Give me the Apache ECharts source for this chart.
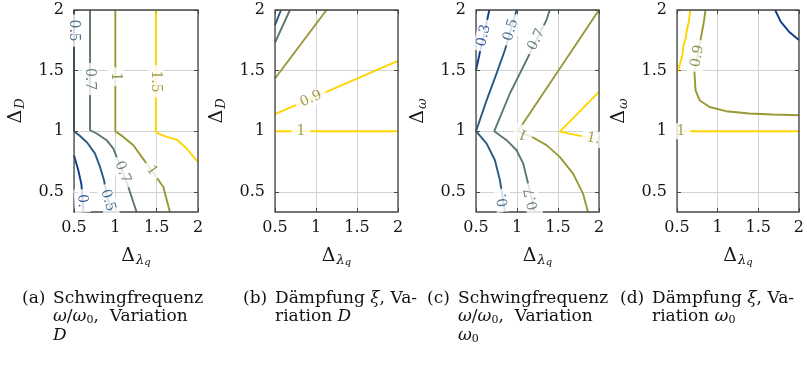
<!DOCTYPE html>
<html>
<head>
<meta charset="utf-8">
<script src="https://cdn.jsdelivr.net/npm/echarts@6/dist/echarts.min.js"></script>
<style>
  html, body { margin: 0; padding: 0; background: #fff; }
  #chart { width: 807px; height: 366px; }
</style>
</head>
<body>
<div id="chart"></div>
<script>
// Axis ranges and tick values (same for all four panels)
const xRange = [0.5, 2];
const yRange = [1 / 3, 2];
const xTicks = [0.5, 1, 1.5, 2];
const yTicks = [0.5, 1, 1.5, 2];

// Contour lines: [Δλq, Δ] points, each traced in the direction its labels read
const contoursA = [
  { level: 0.3, points: [[0.5, 0.802], [0.552, 0.678], [0.59, 0.56], [0.615, 0.331]] },
  { level: 0.5, points: [[0.5, 2], [0.5, 1.0], [0.573, 0.96], [0.661, 0.905], [0.754, 0.815], [0.815, 0.705], [0.863, 0.595], [0.9, 0.46], [0.956, 0.331]] },
  { level: 0.7, points: [[0.694, 2], [0.694, 1.008], [0.774, 0.981], [0.895, 0.926], [0.976, 0.857], [1.016, 0.788], [1.157, 0.54], [1.258, 0.331]] },
  { level: 1, points: [[1.0, 2], [1.0, 1.0], [1.097, 0.953], [1.218, 0.884], [1.319, 0.788], [1.581, 0.54], [1.661, 0.331]] },
  { level: 1.5, points: [[1.49, 2], [1.49, 1.0], [1.52, 0.98], [1.62, 0.953], [1.742, 0.931], [1.863, 0.857], [2, 0.745]] }
];
const contoursB = [
  { level: 0.6, points: [[0.5, 1.876], [0.573, 2]] },
  { level: 0.7, points: [[0.5, 1.73], [0.682, 2]] },
  { level: 0.8, points: [[0.5, 1.435], [1.128, 2]] },
  { level: 0.9, points: [[0.5, 1.14], [2, 1.58]] },
  { level: 1, points: [[0.5, 1.0], [2, 1.0]] }
];
const contoursC = [
  { level: 0.3, points: [[0.5, 1.5], [0.549, 1.656], [0.6, 1.8], [0.662, 2]] },
  { level: 0.5, points: [[0.853, 0.331], [0.812, 0.512], [0.792, 0.595], [0.731, 0.76], [0.63, 0.898], [0.5, 1.0], [0.63, 1.256], [0.751, 1.477], [0.853, 1.67], [0.93, 1.85], [0.995, 2]] },
  { level: 0.7, points: [[1.217, 0.331], [1.136, 0.567], [1.076, 0.733], [0.995, 0.843], [0.873, 0.926], [0.723, 1.0], [0.913, 1.311], [1.116, 1.587], [1.25, 1.77], [1.359, 1.917], [1.4, 2]] },
  { level: 1, points: [[1.866, 0.331], [1.805, 0.485], [1.684, 0.65], [1.521, 0.788], [1.36, 0.885], [1.19, 0.95], [1.01, 1.0], [2, 2]] },
  { level: 1.5, points: [[2, 1.325], [1.522, 0.997], [1.757, 0.964], [2, 0.93]] }
];
const contoursD = [
  { level: 0.8, points: [[1.707, 2], [1.776, 1.904], [1.878, 1.821], [2, 1.752]] },
  { level: 0.9, points: [[2, 1.132], [1.674, 1.138], [1.389, 1.146], [1.103, 1.165], [0.9, 1.2], [0.777, 1.256], [0.728, 1.339], [0.715, 1.478], [0.756, 1.63], [0.797, 1.78], [0.83, 1.9], [0.851, 2]] },
  { level: 1, points: [[0.5, 1.478], [0.533, 1.547], [0.566, 1.629], [0.582, 1.711], [0.606, 1.767], [0.622, 1.835], [0.646, 1.904], [0.663, 2]] },
  { level: 1, points: [[0.5, 1.0], [2, 1.0]] }
];

// Contour labels: which line they sit on, the text shown and the point on that line
const labelsA = [
  { line: 1, text: '0.5', at: [0.5, 1.83] },
  { line: 2, text: '0.7', at: [0.694, 1.43] },
  { line: 3, text: '1', at: [1.0, 1.45] },
  { line: 4, text: '1.5', at: [1.49, 1.41] },
  { line: 2, text: '0.7', at: [1.089, 0.662] },
  { line: 3, text: '1', at: [1.44, 0.675] },
  { line: 1, text: '0.5', at: [0.91, 0.43] },
  { line: 0, text: '0.', at: [0.6, 0.425] }
];
const labelsB = [
  { line: 3, text: '0.9', at: [0.938, 1.268] },
  { line: 4, text: '1', at: [0.816, 1.0] }
];
const labelsC = [
  { line: 0, text: '0.3', at: [0.595, 1.79] },
  { line: 1, text: '0.5', at: [0.924, 1.835] },
  { line: 2, text: '0.7', at: [1.238, 1.755] },
  { line: 1, text: '0.', at: [0.83, 0.43] },
  { line: 2, text: '0.7', at: [1.18, 0.44] },
  { line: 3, text: '1', at: [1.076, 0.98] },
  { line: 4, text: '1.', at: [1.93, 0.94] }
];
const labelsD = [
  { line: 1, text: '0.9', at: [0.752, 1.62] },
  { line: 3, text: '1', at: [0.55, 1.0] }
];

// ---- styling ----
const FONT = 'DejaVu Serif';
const palette = {
  darkBlue: '#0e3d8c', teal: '#2a5a80', sage: '#5b7868', olive: '#999934', gold: '#ffd400'
};
const labelInk = {
  darkBlue: '#0c367c', teal: '#224d70', sage: '#4a665a', olive: '#76762a', gold: '#8c8428'
};
const colorKeysAC = { 0.3: 'darkBlue', 0.5: 'teal', 0.7: 'sage', 1: 'olive', 1.5: 'gold' };
const panels = [
  { contours: contoursA, labels: labelsA, keys: colorKeysAC, left: 74, width: 124, yName: '{d|Δ}{s|D}' },
  { contours: contoursB, labels: labelsB, keys: { 0.6: 'teal', 0.7: 'sage', 0.8: 'olive', 0.9: 'gold', 1: 'gold' }, left: 275, width: 123, yName: '{d|Δ}{s|D}' },
  { contours: contoursC, labels: labelsC, keys: colorKeysAC, left: 476, width: 123, yName: '{d|Δ}{s|ω}' },
  { contours: contoursD, labels: labelsD, keys: { 0.8: 'darkBlue', 0.9: 'olive', 1: 'gold' }, left: 677, width: 123, yName: '{d|Δ}{s|ω}' }
];

const INK = '#161616';
const nameRich = {
  d: { fontFamily: FONT, fontSize: 19, color: INK },
  s: { fontFamily: FONT, fontSize: 13, fontStyle: 'italic', color: INK, verticalAlign: 'bottom', padding: [8, 0, 0, 1] },
  ss: { fontFamily: FONT, fontSize: 10, fontStyle: 'italic', color: INK, verticalAlign: 'bottom', padding: [12, 0, 0, 0] }
};

const FRAME = '#474747';
const grid = [], xAxis = [], yAxis = [];
panels.forEach((p, i) => {
  grid.push({ left: p.left, top: 10, width: p.width, height: 202, show: true, z: 10,
    borderColor: FRAME, borderWidth: 1.3, backgroundColor: 'transparent' });
  xAxis.push({
    type: 'value', gridIndex: i, min: xRange[0], max: xRange[1], interval: 0.5,
    name: '{d|Δ}{s|λ}{ss|q}', nameLocation: 'middle', nameGap: 33,
    nameTextStyle: { rich: nameRich },
    axisLine: { show: false },
    axisTick: { show: true, inside: true, length: 4, lineStyle: { color: FRAME } },
    axisLabel: { fontFamily: FONT, fontSize: 16, color: INK, margin: 8,
      customValues: xTicks },
    splitLine: { show: true, lineStyle: { color: '#d2d2d2', width: 1 } }
  });
  yAxis.push({
    type: 'value', gridIndex: i, min: yRange[0], max: yRange[1],
    name: p.yName, nameLocation: 'middle', nameGap: 47, nameRotate: 90,
    nameTextStyle: { rich: nameRich },
    axisLine: { show: false },
    axisTick: { show: true, inside: true, length: 4, lineStyle: { color: FRAME }, customValues: yTicks },
    axisLabel: { fontFamily: FONT, fontSize: 16, color: INK, margin: 10, customValues: yTicks },
    splitLine: { show: true, lineStyle: { color: '#d2d2d2', width: 1 } }
  });
});
// mirrored ticks on the top and right edges
panels.forEach((p, i) => {
  xAxis.push({ type: 'value', gridIndex: i, position: 'top', min: xRange[0], max: xRange[1], interval: 0.5,
    axisLine: { show: false }, axisLabel: { show: false }, splitLine: { show: false },
    axisTick: { show: true, inside: true, length: 4, lineStyle: { color: FRAME } } });
  yAxis.push({ type: 'value', gridIndex: i, position: 'right', min: yRange[0], max: yRange[1],
    axisLine: { show: false }, axisLabel: { show: false }, splitLine: { show: false },
    axisTick: { show: true, inside: true, length: 4, lineStyle: { color: FRAME }, customValues: yTicks } });
});

function buildSeries(angles) {
  const series = [];
  panels.forEach((p, i) => {
    p.contours.forEach(c => {
      series.push({
        type: 'line', xAxisIndex: i, yAxisIndex: i, data: c.points,
        showSymbol: false, silent: true, clip: true, z: 3, animation: false,
        lineStyle: { color: palette[p.keys[c.level]], width: 1.9 }
      });
    });
    series.push({
      type: 'scatter', xAxisIndex: i, yAxisIndex: i, silent: true, z: 12, zlevel: 0,
      symbolSize: 1, itemStyle: { color: 'rgba(0,0,0,0)' }, animation: false, clip: false,
      data: p.labels.map((l, k) => ({
        value: l.at,
        label: {
          formatter: l.text,
          color: labelInk[p.keys[p.contours[l.line].level]],
          rotate: angles ? angles[i][k] : 0
        }
      })),
      label: {
        show: true, position: 'inside', fontFamily: FONT, fontSize: 14,
        backgroundColor: '#fff', padding: [1, 5], align: 'center', verticalAlign: 'middle'
      }
    });
  });
  return series;
}

// Captions under each panel: number at the left, hanging-indented body
const capRich = {
  i: { fontFamily: FONT, fontSize: 17, fontStyle: 'italic', color: '#111', lineHeight: 18.5 },
  sub: { fontFamily: FONT, fontSize: 11, color: '#111', verticalAlign: 'bottom', padding: [6, 0, 0, 0] }
};
const capBase = { fontFamily: FONT, fontSize: 17, fill: '#111', lineHeight: 18.5, rich: capRich };
const captions = [
  { num: '(a)', x: 22, bx: 53, body: 'Schwingfrequenz\n{i|ω}/{i|ω}{sub|0},  Variation\n{i|D}' },
  { num: '(b)', x: 243, bx: 275, body: 'Dämpfung {i|ξ}, Va-\nriation {i|D}' },
  { num: '(c)', x: 427, bx: 458, body: 'Schwingfrequenz\n{i|ω}/{i|ω}{sub|0},  Variation\n{i|ω}{sub|0}' },
  { num: '(d)', x: 620, bx: 652, body: 'Dämpfung {i|ξ}, Va-\nriation {i|ω}{sub|0}' }
];
const graphic = [];
captions.forEach(c => {
  graphic.push({ type: 'text', left: c.x, top: 289, style: Object.assign({ text: c.num }, capBase) });
  graphic.push({ type: 'text', left: c.bx, top: 289, style: Object.assign({ text: c.body }, capBase) });
});

const chart = echarts.init(document.getElementById('chart'), null, { renderer: 'canvas' });
chart.setOption({ animation: false, backgroundColor: '#fff', grid, xAxis, yAxis, graphic, series: buildSeries(null) });

// Label angles follow the local direction of their contour line on screen
function angleFor(i, contour, at) {
  const pts = contour.points.map(pt => chart.convertToPixel({ gridIndex: i }, pt));
  const q = chart.convertToPixel({ gridIndex: i }, at);
  let best = Infinity, ang = 0;
  for (let k = 0; k < pts.length - 1; k++) {
    const a = pts[k], b = pts[k + 1];
    const dx = b[0] - a[0], dy = b[1] - a[1];
    const len2 = dx * dx + dy * dy || 1;
    let t = ((q[0] - a[0]) * dx + (q[1] - a[1]) * dy) / len2;
    t = Math.max(0, Math.min(1, t));
    const px = a[0] + t * dx - q[0], py = a[1] + t * dy - q[1];
    const d = px * px + py * py;
    if (d < best) { best = d; ang = Math.atan2(-dy, dx) * 180 / Math.PI; }
  }
  return ang;
}
const angles = panels.map((p, i) => p.labels.map(l => angleFor(i, p.contours[l.line], l.at)));
chart.setOption({ series: buildSeries(angles) });
</script>
</body>
</html>
